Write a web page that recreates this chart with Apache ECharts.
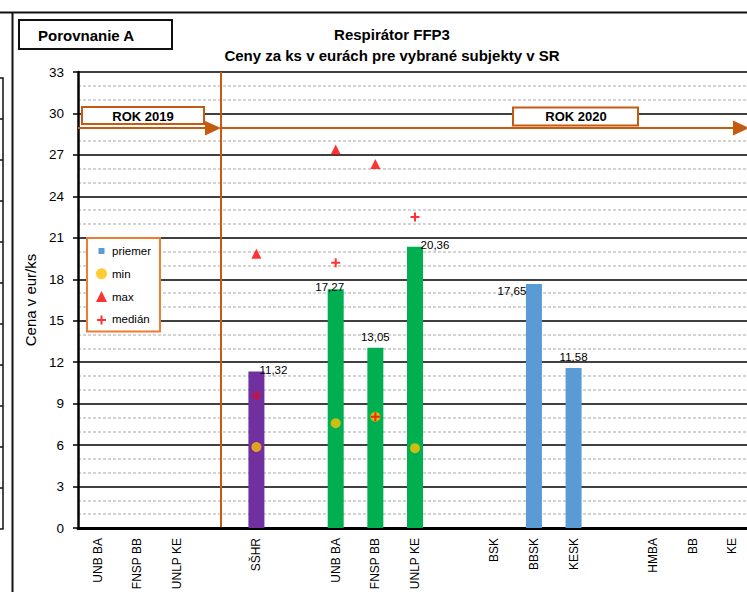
<!DOCTYPE html>
<html><head><meta charset="utf-8">
<script src="https://cdn.jsdelivr.net/npm/echarts@6/dist/echarts.min.js"></script>
<style>html,body{margin:0;padding:0;background:#fff}#c{width:747px;height:592px}</style>
</head><body><div id="c"></div>
<script>
// ---- data ----
const categories = ['UNB BA','FNSP BB','UNLP KE','','SŠHR','','UNB BA','FNSP BB','UNLP KE','','BSK','BBSK','KESK','','HMBA','BB','KE'];
const priemer    = [null,null,null,null,11.32,null,17.27,13.05,20.36,null,null,17.65,11.58,null,null,null,null];
const minVals    = [null,null,null,null,5.86,null,7.58,8.05,5.78,null,null,null,null,null,null,null,null];
const maxVals    = [null,null,null,null,19.85,null,27.4,26.35,null,null,null,null,null,null,null,null,null];
const medianVals = [null,null,null,null,9.57,null,19.2,8.05,22.5,null,null,null,null,null,null,null,null];
const legendNames = ['priemer','min','max','medián'];
const titleLines = ['Respirátor FFP3','Ceny za ks v eurách pre vybrané subjekty v SR'];
const yName = 'Cena v eur/ks';
const yMin = 0, yMax = 33, yStep = 3;

// ---- style ----
const SANS = "'Liberation Sans',Arial,sans-serif";
const ORANGE = '#C55A11';
function barColor(i){ if(i===4) return '#7030A0'; if(i>=6&&i<=8) return '#00B050'; return '#5B9BD5'; }
const labelOffset = {4:[17,9],6:[-6,9],8:[20,9],11:[-22,18]};
const fmt = v => Number(v).toFixed(2).replace('.', ',');
const plusPath = 'path://M3.5,0h2v3.5h3.5v2h-3.5v3.5h-2v-3.5h-3.5v-2h3.5z';
const dash = v => v == null ? '-' : v;

const chart = echarts.init(document.getElementById('c'), null, {renderer:'svg', width:747, height:592});

const g = [];
// frame
g.push({type:'line', shape:{x1:0,y1:12.5,x2:747,y2:12.5}, style:{stroke:'#111',lineWidth:2}});
g.push({type:'line', shape:{x1:12.5,y1:12,x2:12.5,y2:592}, style:{stroke:'#111',lineWidth:2}});
g.push({type:'rect', shape:{x:-6,y:78,width:9,height:451}, style:{stroke:'#111',fill:'none',lineWidth:1.5}});
for (let k=1;k<=10;k++) g.push({type:'line', shape:{x1:0,y1:78+41*k,x2:3,y2:78+41*k}, style:{stroke:'#111',lineWidth:1.5}});
// Porovnanie A
g.push({type:'rect', shape:{x:19,y:20,width:153,height:29}, style:{stroke:'#111',fill:'#fff',lineWidth:2}});
g.push({type:'text', x:38, y:35, style:{text:'Porovnanie A', font:'bold 15px '+SANS, fill:'#000', verticalAlign:'middle', align:'left'}});
// title
g.push({type:'text', x:392, y:34, style:{text:titleLines[0], font:'bold 15px '+SANS, fill:'#000', align:'center', verticalAlign:'middle'}});
g.push({type:'text', x:392, y:55, style:{text:titleLines[1], font:'bold 15px '+SANS, fill:'#000', align:'center', verticalAlign:'middle'}});
// orange annotations
g.push({type:'line', shape:{x1:221,y1:72,x2:221,y2:527}, style:{stroke:ORANGE,lineWidth:2}});
g.push({type:'line', shape:{x1:78,y1:128,x2:207,y2:128}, style:{stroke:ORANGE,lineWidth:2}});
g.push({type:'polygon', shape:{points:[[205,121],[221,128],[205,135.5]]}, style:{fill:ORANGE}});
g.push({type:'line', shape:{x1:221,y1:128,x2:735,y2:128}, style:{stroke:ORANGE,lineWidth:2}});
g.push({type:'polygon', shape:{points:[[733,120.5],[749,128],[733,135.5]]}, style:{fill:ORANGE}});
g.push({type:'rect', shape:{x:82,y:107,width:122,height:17}, style:{stroke:ORANGE,fill:'#fff',lineWidth:2}});
g.push({type:'text', x:143, y:116, style:{text:'ROK 2019', font:'bold 13px '+SANS, fill:'#000', align:'center', verticalAlign:'middle'}});
g.push({type:'rect', shape:{x:513,y:107.5,width:125,height:18}, style:{stroke:ORANGE,fill:'#fff',lineWidth:2}});
g.push({type:'text', x:576, y:116.5, style:{text:'ROK 2020', font:'bold 13px '+SANS, fill:'#000', align:'center', verticalAlign:'middle'}});
g.forEach(e => { e.z = 100; });

const option = {
  animation:false,
  backgroundColor:'#fff',
  grid:{left:78, top:72, right:-5, bottom:64, outerBoundsMode:'none', containLabel:false},
  legend:{
    orient:'vertical', left:87, top:238, padding:[7,9,6,9],
    itemWidth:11, itemHeight:11, itemGap:10.8,
    backgroundColor:'#fff', borderColor:'#ED7D31', borderWidth:2, selectedMode:false,
    textStyle:{fontFamily:SANS, fontSize:11.5, color:'#000', lineHeight:11},
    data:[
      {name:legendNames[0], icon:'path://M0,0M11,11M2.5,2.5h6v6h-6z'},
      {name:legendNames[1], icon:'circle'},
      {name:legendNames[2], icon:'triangle'},
      {name:legendNames[3], icon:'path://M0,0M11,11M4.5,1.5h2v3.5h3.5v2h-3.5v3.5h-2v-3.5h-3.5v-2h3.5z'}
    ]
  },
  xAxis:{
    type:'category', data:categories,
    axisLine:{lineStyle:{color:'#000',width:3}},
    axisTick:{show:false},
    axisLabel:{interval:0, rotate:90, margin:10, fontFamily:SANS, fontSize:12, color:'#000'},
    splitLine:{show:false}
  },
  yAxis:{
    type:'value', min:yMin, max:yMax, interval:yStep,
    name:yName, nameLocation:'middle', nameGap:40, nameRotate:90,
    nameTextStyle:{fontFamily:SANS, fontSize:15, color:'#000'},
    axisLine:{show:true, lineStyle:{color:'#000', width:2.5}},
    axisTick:{show:true, length:5, lineStyle:{color:'#000', width:1.5}},
    axisLabel:{margin:14, fontFamily:SANS, fontSize:13.5, color:'#000'},
    splitLine:{show:true, lineStyle:{color:'#000', width:1.5}},
    minorTick:{show:false, splitNumber:3},
    minorSplitLine:{show:true, lineStyle:{color:'#D4D4D4', width:2, type:[3,2]}}
  },
  series:[
    {
      name:legendNames[0], type:'bar', barWidth:16,
      itemStyle:{color:'#5B9BD5'},
      label:{show:true, position:'top', distance:5, fontFamily:SANS, fontSize:11.5, color:'#000', formatter:p=>fmt(p.value)},
      data: priemer.map((v,i)=> v==null ? '-' : {value:v, itemStyle:{color:barColor(i)}, label:{offset:labelOffset[i]||[0,0]}})
    },
    {name:legendNames[1], type:'scatter', symbol:'circle', symbolSize:10, itemStyle:{color:'#FFC000'}, z:3, data:minVals.map(dash)},
    {name:legendNames[2], type:'scatter', symbol:'triangle', symbolSize:10, itemStyle:{color:'#FF0000'}, z:3, data:maxVals.map(dash)},
    {name:legendNames[3], type:'scatter', symbol:plusPath, symbolSize:9, itemStyle:{color:'#FF0000'}, z:4, data:medianVals.map(dash)}
  ],
  graphic:g
};
chart.setOption(option);
</script>
</body></html>
